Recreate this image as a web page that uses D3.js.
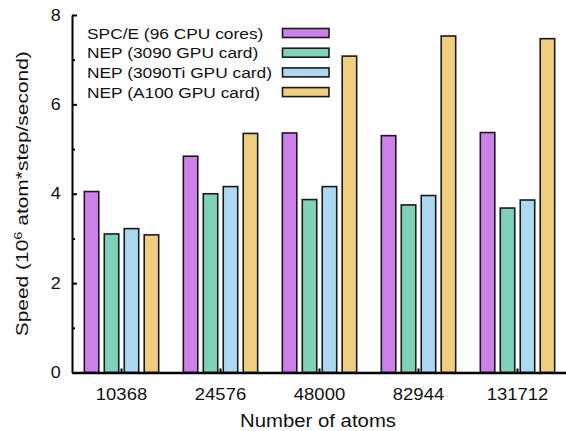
<!DOCTYPE html>
<html>
<head>
<meta charset="utf-8">
<script src="https://cdn.jsdelivr.net/npm/d3@7"></script>
<style>
  html, body { margin: 0; padding: 0; background: #fff; }
  svg { display: block; }
  text { font-family: "Liberation Sans", Arial, Helvetica, sans-serif; fill: #111; }
</style>
</head>
<body>
<svg id="chart" width="566" height="431"></svg>
<script>
// Number of atoms in each benchmark system
const categories = ["10368", "24576", "48000", "82944", "131712"];

// Series names as shown in the legend
const seriesNames = [
  "SPC/E (96 CPU cores)",
  "NEP (3090 GPU card)",
  "NEP (3090Ti GPU card)",
  "NEP (A100 GPU card)"
];

// Speed in 10^6 atom*step/second, one array per series
const spceCpu   = [4.05, 4.84, 5.36, 5.30, 5.37];
const nep3090   = [3.10, 4.00, 3.87, 3.75, 3.68];
const nep3090Ti = [3.22, 4.16, 4.16, 3.96, 3.86];
const nepA100   = [3.08, 5.35, 7.08, 7.53, 7.47];

const seriesColors = ["#cb80ea", "#80d1b9", "#abd9f2", "#f0ce80"];

const yTicks = [0, 2, 4, 6, 8];
const yMinorTicks = [1, 3, 5, 7];

const seriesValues = [spceCpu, nep3090, nep3090Ti, nepA100];

const svg = d3.select("#chart");
const W = 566, H = 431;
const margin = { left: 72, right: -1, top: 15, bottom: 58.5 };
const stretch = 1.12; // horizontal text widening

const x0 = d3.scaleBand()
  .domain(categories)
  .range([margin.left, W - margin.right])
  .padding(0);

const x1 = d3.scaleBand()
  .domain(d3.range(seriesNames.length))
  .range([0, x0.bandwidth()])
  .paddingInner(0.2)
  .paddingOuter(0.58);

const y = d3.scaleLinear()
  .domain([0, 8])
  .range([H - margin.bottom, margin.top]);

// Bars
const groups = svg.append("g")
  .selectAll("g")
  .data(categories)
  .join("g")
  .attr("transform", d => `translate(${x0(d)},0)`);

groups.selectAll("rect")
  .data((c, ci) => seriesValues.map((vals, si) => ({ si, v: vals[ci] })))
  .join("rect")
  .attr("x", d => x1(d.si) + 0.75)
  .attr("width", x1.bandwidth() - 1.5)
  .attr("y", d => y(d.v))
  .attr("height", d => y(0) - y(d.v))
  .attr("fill", d => seriesColors[d.si])
  .attr("stroke", "#1a1a1a")
  .attr("stroke-width", 1.6);

// Y axis (ticks point inward)
const yAxis = svg.append("g")
  .attr("transform", `translate(${margin.left},0)`)
  .call(d3.axisLeft(y).tickValues(yTicks).tickSize(-5).tickSizeOuter(0).tickPadding(10));
yAxis.select(".domain").attr("stroke", "#000").attr("stroke-width", 2);
yAxis.selectAll(".tick line").attr("stroke", "#000").attr("stroke-width", 2);
yAxis.selectAll(".tick text")
  .attr("font-size", 16)
  .attr("font-family", "Liberation Sans, Arial, sans-serif")
  .attr("fill", "#111")
  .attr("transform", `scale(${stretch},1)`);

const yMinor = svg.append("g")
  .attr("transform", `translate(${margin.left},0)`)
  .call(d3.axisLeft(y).tickValues(yMinorTicks).tickSize(-3).tickFormat(""));
yMinor.select(".domain").remove();
yMinor.selectAll(".tick line").attr("stroke", "#000").attr("stroke-width", 2);

// X axis
const xAxis = svg.append("g")
  .attr("transform", `translate(0,${y(0)})`)
  .call(d3.axisBottom(x0).tickSize(-4).tickSizeOuter(0).tickPadding(15.5));
xAxis.select(".domain").attr("stroke", "#000").attr("stroke-width", 2.5);
xAxis.selectAll(".tick line").attr("stroke", "#000").attr("stroke-width", 2);
xAxis.selectAll(".tick text")
  .attr("font-size", 16.5)
  .attr("font-family", "Liberation Sans, Arial, sans-serif")
  .attr("fill", "#111")
  .attr("transform", `scale(${stretch},1)`);

// Axis titles
svg.append("text")
  .attr("transform", `translate(${(margin.left + W) / 2 - 1},${H - 4}) scale(1.1,1)`)
  .attr("text-anchor", "middle")
  .attr("font-size", 18.5)
  .text("Number of atoms");

const yTitle = svg.append("text")
  .attr("transform", `translate(28,${(y(0) + y(8)) / 2}) rotate(-90) scale(1.27,1)`)
  .attr("text-anchor", "middle")
  .attr("font-size", 16.5);
yTitle.append("tspan").text("Speed (10");
yTitle.append("tspan").attr("dy", -6.5).attr("font-size", 11.5).text("6");
yTitle.append("tspan").attr("dy", 6.5).text(" atom*step/second)");

// Legend
const legend = svg.append("g");
const rowY = [33, 52.7, 72.4, 92.1];
seriesNames.forEach((name, i) => {
  legend.append("text")
    .attr("transform", `translate(87,${rowY[i] + 5.5}) scale(${stretch},1)`)
    .attr("font-size", 15.5)
    .text(name);
  legend.append("rect")
    .attr("x", 282.5)
    .attr("y", rowY[i] - 4.5)
    .attr("width", 46.5)
    .attr("height", 9)
    .attr("fill", seriesColors[i])
    .attr("stroke", "#1a1a1a")
    .attr("stroke-width", 1.6);
});
</script>
</body>
</html>
